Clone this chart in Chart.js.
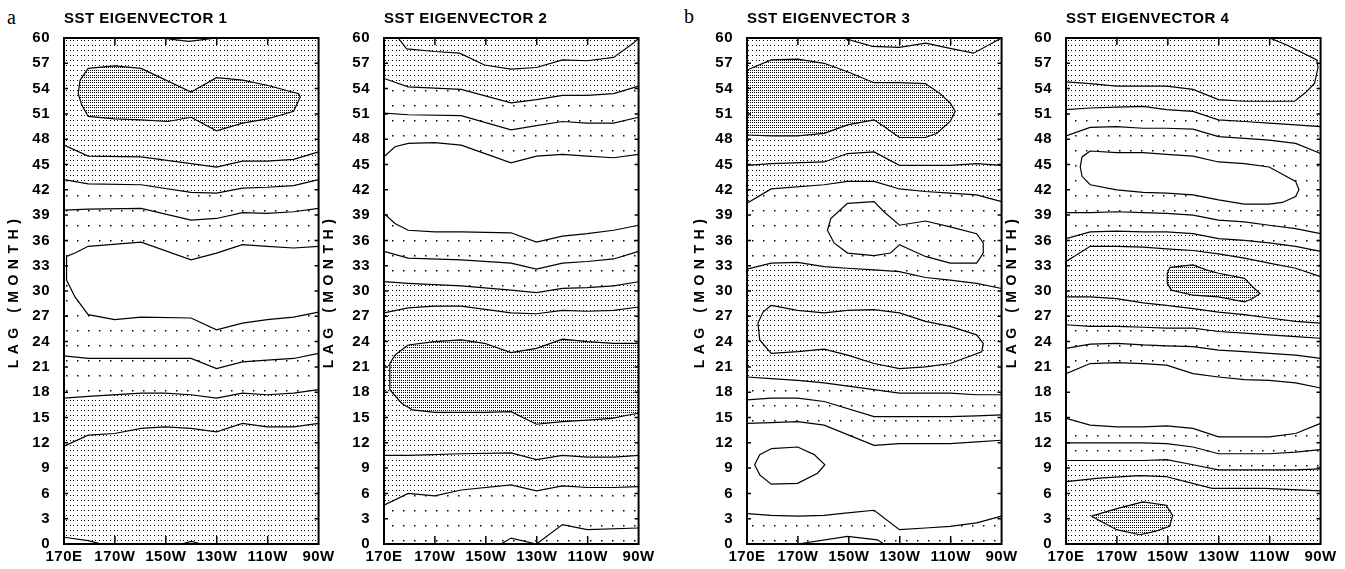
<!DOCTYPE html>
<html>
<head>
<meta charset="utf-8">
<script src="https://cdn.jsdelivr.net/npm/chart.js@4.4.1/dist/chart.umd.min.js"></script>
<style>
    html, body { margin: 0; padding: 0; background: #fff; }
    body { width: 1345px; height: 569px; position: relative; overflow: hidden; }
    canvas { position: absolute; top: 0; }
    .panel-letter { position: absolute; font-family: 'Liberation Serif', 'Times New Roman', serif; font-size: 20px; line-height: 20px; color: #000; }
</style>
</head>
<body>
<div class="panel-letter" style="left:7px; top:7px;">a</div>
<div class="panel-letter" style="left:684px; top:6px;">b</div>
<canvas id="sst1" width="338" height="569" style="left:0px"></canvas>
<canvas id="sst2" width="343" height="569" style="left:315px"></canvas>
<canvas id="sst3" width="335" height="569" style="left:686px"></canvas>
<canvas id="sst4" width="342" height="569" style="left:998px"></canvas>
<script>
// Axes: longitude in degrees east (170E = 170 ... 90W = 270), lag in months
const lonMin = 170, lonMax = 270;
const lagMin = 0, lagMax = 60;
const lonTickValues = [170, 190, 210, 230, 250, 270];
const lonTickLabels = ['170E', '170W', '150W', '130W', '110W', '90W'];
const lagStep = 3;

// ---- Eigenvector 1 contours [lon, lag]
const e1TopDip = [[208, 60], [219, 59.6], [230, 60]];
const e1Blob = [[179.5, 56.4], [189.9, 56.7], [200.3, 56.4], [219.9, 53.6], [229.9, 55.3], [240.1, 55.0], [249.8, 54.4], [262.2, 53.4], [262.8, 53.0], [260.2, 51.3], [249.8, 50.4], [240.1, 49.9], [229.9, 49.0], [221.2, 50.4], [219.9, 50.6], [210.8, 50.1], [200.3, 50.3], [189.9, 50.4], [179.5, 50.7], [176.9, 52.1], [175.6, 53.4], [176.3, 55.0], [179.5, 56.4]];
const e1Line46 = [[170, 47.3], [179.5, 46.0], [200.3, 45.9], [219.9, 45.1], [229.9, 44.7], [240.1, 45.4], [249.8, 45.4], [260.2, 45.6], [270, 46.5]];
const e1Line43 = [[170, 43.2], [179.5, 42.7], [200.3, 42.6], [219.9, 41.7], [229.9, 41.6], [240.1, 42.2], [249.8, 42.3], [260.2, 42.5], [270, 43.2]];
const e1Line39 = [[170, 39.6], [179.5, 39.7], [200.3, 39.8], [219.9, 38.4], [229.9, 38.6], [240.1, 39.3], [249.8, 39.2], [260.2, 39.4], [270, 39.8]];
const e1Hole = [[270, 35.3], [260.2, 35.1], [249.8, 35.3], [240.1, 35.5], [229.9, 34.5], [219.9, 33.7], [200.3, 35.8], [179.5, 35.3], [174.3, 34.5], [171, 34.1], [171, 31.3], [174.3, 29.3], [179.5, 27.2], [189.9, 26.6], [200.3, 26.9], [219.9, 26.8], [229.9, 25.4], [240.1, 26.2], [249.8, 26.6], [260.2, 26.9], [270, 27.5]];
const e1Line22 = [[170, 22.3], [179.5, 22.0], [200.3, 22.0], [219.9, 22.0], [229.9, 20.8], [240.1, 21.6], [249.8, 21.8], [260.2, 22.0], [270, 22.6]];
const e1Line18 = [[170, 17.3], [179.5, 17.5], [200.3, 17.9], [209.5, 17.9], [219.9, 17.7], [229.9, 17.3], [240.1, 17.9], [249.8, 17.7], [260.2, 17.9], [270, 18.3]];
const e1Line13 = [[170, 11.6], [179.5, 12.9], [189.9, 13.1], [200.3, 13.7], [209.5, 13.9], [219.9, 13.7], [229.9, 13.3], [240.1, 14.3], [249.8, 13.9], [260.2, 13.9], [270, 14.3]];
const e1Corner = [[170, 0.8], [179.5, 0.4], [184.7, 0]];
const e1Bump = [[216, 0], [220, 0.3], [224, 0]];

// ---- Eigenvector 2 contours
const e2Line58 = [[175.6, 60], [178.9, 58.7], [189.9, 58.4], [199.7, 58.2], [209.5, 56.8], [219.9, 56.3], [229.9, 56.5], [240.1, 57.4], [249.8, 57.3], [260.2, 57.7], [268, 59.4], [270, 60]];
const e2Line54 = [[170, 55.2], [179.5, 54.2], [200.3, 53.9], [219.9, 52.3], [229.9, 52.7], [240.1, 53.2], [249.8, 53.2], [260.2, 53.4], [270, 54.3]];
const e2Line50 = [[170, 51.1], [179.5, 50.9], [200.3, 50.8], [219.9, 49.1], [229.9, 49.6], [240.1, 50.1], [249.8, 49.9], [260.2, 49.9], [270, 50.6]];
const e2WhiteTop = [[170, 45.9], [174.3, 47.1], [179.5, 47.5], [189.9, 47.6], [200.3, 47.3], [219.9, 45.2], [229.9, 46.0], [240.1, 46.2], [249.8, 46.0], [260.2, 45.8], [270, 46.2]];
const e2WhiteBottom = [[170, 39.2], [174.3, 38.0], [179.5, 37.2], [189.9, 37.0], [200.3, 37.0], [219.9, 36.9], [229.9, 35.8], [240.1, 36.5], [249.8, 36.8], [260.2, 37.2], [270, 37.8]];
const e2Line34 = [[170, 34.7], [179.5, 33.9], [200.3, 33.7], [219.9, 33.3], [229.9, 32.6], [240.1, 33.3], [249.8, 33.5], [260.2, 33.8], [270, 34.7]];
const e2Line31 = [[170, 31.1], [179.5, 30.9], [200.3, 30.6], [219.9, 30.1], [229.9, 29.8], [240.1, 30.3], [249.8, 30.4], [260.2, 30.6], [270, 31.1]];
const e2Line28 = [[170, 27.4], [179.5, 28.0], [189.9, 28.2], [200.3, 28.2], [219.9, 27.4], [229.9, 27.3], [240.1, 27.7], [249.8, 27.6], [260.2, 27.7], [270, 28.1]];
const e2Blob = [[179.5, 23.6], [189.9, 24.0], [200.3, 24.2], [209.5, 23.8], [219.9, 22.7], [229.9, 23.2], [240.1, 24.3], [249.8, 24.0], [260.2, 23.8], [270, 23.8], [270, 15.5], [266, 15.3], [259.6, 14.9], [249.8, 14.7], [240.1, 14.5], [229.9, 14.2], [219.9, 15.7], [209.5, 15.6], [189.9, 15.6], [181.2, 15.9], [176.9, 16.7], [172.3, 18.3], [172.3, 21.4], [174.3, 22.4], [179.5, 23.6]];
const e2Line11 = [[170, 10.5], [179.5, 10.5], [200.3, 10.7], [219.9, 10.8], [229.9, 10.0], [240.1, 10.5], [249.8, 10.3], [260.2, 10.3], [270, 10.5]];
const e2Line6 = [[170, 4.6], [179.5, 6.0], [189.9, 5.7], [200.3, 6.4], [219.9, 7.0], [229.9, 6.3], [240.1, 6.9], [249.8, 6.7], [260.2, 6.7], [270, 6.8]];
const e2Line2 = [[216, 0], [219.9, 0.7], [229.9, 0], [240.1, 2.3], [249.8, 1.7], [270, 1.9]];

// ---- Eigenvector 3 contours
const e3Line59 = [[207.6, 60], [219.3, 59.0], [229.8, 58.9], [240.2, 59.4], [249.3, 58.8], [259, 58.2], [270, 60]];
const e3Blob = [[170, 56.2], [179.5, 57.4], [189.9, 57.5], [200.3, 57.0], [209.5, 56.0], [219.9, 54.7], [229.9, 54.7], [240.1, 54.6], [245.9, 53.4], [249.8, 52.3], [251.8, 51.3], [249.8, 50.1], [244.6, 48.7], [240.1, 48.2], [229.9, 48.2], [223.8, 49.5], [219.9, 50.3], [209.5, 49.7], [200.3, 48.7], [189.9, 48.4], [179.5, 48.4], [170, 48.5]];
const e3Line45 = [[170, 44.9], [179.5, 45.1], [200.3, 45.3], [209.5, 46.3], [219.9, 46.5], [229.9, 44.9], [240.1, 44.9], [249.8, 44.9], [260.2, 45.1], [270, 44.9]];
const e3Line42 = [[170, 40.4], [179.5, 42.1], [200.3, 42.6], [209.5, 43.0], [219.9, 43.0], [229.9, 42.1], [240.1, 41.8], [249.8, 41.6], [260.2, 41.4], [270, 40.6]];
const e3Ring37 = [[209.5, 40.4], [219.9, 40.6], [223.8, 39.4], [229.9, 37.8], [240.1, 38.3], [249.8, 37.6], [260.2, 36.8], [262.8, 35.7], [262.8, 34.5], [260.2, 33.3], [249.8, 33.3], [240.1, 34.1], [234.2, 34.9], [229.9, 35.5], [226.4, 34.5], [219.9, 34.2], [209.5, 34.5], [204.2, 35.7], [201.6, 37.2], [202.9, 38.6], [209.5, 40.4]];
const e3Line32 = [[170, 32.6], [179.5, 33.3], [189.9, 33.4], [200.3, 32.9], [209.5, 32.7], [219.9, 32.5], [229.9, 32.3], [240.1, 31.6], [249.8, 31.3], [260.2, 30.9], [270, 30.3]];
const e3Ring25 = [[179.5, 28.3], [189.9, 27.7], [200.3, 27.4], [209.5, 27.7], [219.9, 27.8], [229.9, 27.4], [240.1, 26.4], [249.8, 25.8], [260.2, 24.8], [262.8, 23.8], [262.2, 22.8], [249.8, 21.4], [240.1, 21.0], [229.9, 20.8], [219.9, 21.4], [209.5, 22.4], [200.3, 23.1], [189.9, 22.8], [179.5, 22.6], [175, 24.2], [174.3, 26.2], [176.3, 27.5], [179.5, 28.3]];
const e3Line19 = [[170, 19.8], [179.5, 19.6], [189.9, 19.4], [200.3, 19.1], [219.9, 18.3], [229.9, 17.9], [240.1, 17.9], [249.8, 17.9], [260.2, 17.7], [270, 17.7]];
const e3Line16 = [[170, 17.1], [179.5, 17.3], [189.9, 17.3], [200.3, 16.9], [219.9, 15.1], [229.9, 15.1], [240.1, 15.1], [249.8, 15.1], [260.2, 15.2], [270, 15.3]];
const e3Line13 = [[170, 14.3], [179.5, 14.4], [189.9, 14.5], [200.3, 14.1], [219.9, 11.7], [229.9, 11.9], [240.1, 11.9], [249.8, 11.9], [260.2, 12.1], [270, 12.3]];
const e3Ring9 = [[179.5, 11.3], [189.9, 11.5], [196.4, 10.6], [200.6, 9.4], [197.7, 8.4], [189.9, 7.2], [179.5, 7.1], [175, 8.2], [173, 9.4], [175, 10.6], [179.5, 11.3]];
const e3Line3 = [[170, 3.6], [179.5, 3.4], [189.9, 3.3], [200.3, 3.4], [209.5, 3.7], [219.9, 4.0], [229.9, 1.7], [240.1, 1.9], [249.8, 2.1], [260.2, 2.5], [270, 3.3]];
const e3Bump = [[189.9, 0], [209.5, 0.9], [221.2, 0.5], [223.8, 0]];

// ---- Eigenvector 4 contours
const e4Line55 = [[170, 54.8], [179.5, 54.6], [189.9, 54.3], [200.3, 54.3], [209.5, 54.3], [219.9, 53.9], [229.9, 52.7], [240.1, 52.5], [249.8, 52.5], [259.8, 52.5], [264, 53.5], [267.6, 54.6], [269, 56.5], [268.5, 57.4], [256.5, 59.2], [250, 60]];
const e4Line52 = [[170, 51.5], [179.5, 51.7], [189.9, 51.8], [200.3, 51.9], [209.5, 51.5], [219.9, 51.3], [229.9, 50.3], [240.1, 50.1], [249.8, 49.9], [260.2, 49.7], [270, 49.5]];
const e4Line49 = [[170, 48.4], [179.5, 49.4], [189.9, 49.5], [200.3, 49.3], [209.5, 49.3], [219.9, 49.2], [229.9, 48.3], [240.1, 48.1], [249.8, 47.9], [260.2, 47.5], [270, 46.3]];
const e4Hole = [[179.5, 46.6], [189.9, 46.4], [200.3, 46.4], [209.5, 46.2], [219.9, 46.0], [229.9, 45.3], [240.1, 45.1], [249.8, 44.7], [260.2, 43.0], [261.5, 42.0], [260.2, 41.2], [255, 40.5], [249.8, 40.3], [240.1, 40.3], [229.9, 40.8], [219.9, 41.4], [209.5, 41.6], [200.3, 41.7], [189.9, 42.0], [179.5, 42.6], [176.3, 43.6], [175.6, 44.7], [176.3, 45.9], [179.5, 46.6]];
const e4Line39 = [[170, 39.3], [179.5, 39.3], [189.9, 39.4], [200.3, 39.3], [209.5, 39.2], [219.9, 39.0], [229.9, 38.4], [240.1, 38.2], [249.8, 37.8], [260.2, 37.4], [270, 36.8]];
const e4Line37 = [[170, 36.2], [179.5, 37.0], [189.9, 37.1], [200.3, 37.0], [209.5, 37.0], [219.9, 36.8], [229.9, 36.2], [240.1, 36.0], [249.8, 35.7], [260.2, 35.3], [270, 34.7]];
const e4Line34 = [[170, 33.5], [179.5, 35.3], [189.9, 35.3], [200.3, 35.2], [209.5, 35.0], [219.9, 34.8], [229.9, 34.4], [240.1, 33.9], [249.8, 33.3], [260.2, 32.7], [270, 31.7]];
const e4Blob30 = [[210.8, 32.8], [219.9, 33.1], [225.1, 32.5], [229.9, 32.1], [240.1, 31.5], [243.3, 30.5], [246.2, 29.7], [243.3, 29.1], [240.1, 28.7], [229.9, 29.3], [219.9, 29.5], [211.4, 30.1], [209.8, 30.9], [209.8, 32.1], [210.8, 32.8]];
const e4Line29 = [[170, 29.3], [179.5, 29.3], [189.9, 29.1], [200.3, 28.6], [209.5, 28.3], [219.9, 27.9], [229.9, 27.5], [240.1, 27.2], [249.8, 26.8], [260.2, 26.4], [270, 26.2]];
const e4Line26 = [[170, 26.0], [179.5, 25.8], [189.9, 25.8], [200.3, 25.7], [209.5, 25.6], [219.9, 25.6], [229.9, 25.2], [240.1, 25.0], [249.8, 24.8], [260.2, 24.6], [270, 24.4]];
const e4Line23 = [[170, 23.2], [179.5, 23.7], [189.9, 23.8], [200.3, 23.6], [209.5, 23.5], [219.9, 23.4], [229.9, 23.0], [240.1, 22.8], [249.8, 22.6], [260.2, 22.4], [270, 22.0]];
const e4WhiteTop = [[170, 20.2], [179.5, 21.4], [189.9, 21.5], [200.3, 21.4], [209.5, 21.2], [219.9, 20.2], [229.9, 19.8], [240.1, 19.5], [249.8, 19.4], [260.2, 19.1], [270, 18.5]];
const e4WhiteBottom = [[170, 14.9], [179.5, 14.1], [189.9, 13.9], [200.3, 13.9], [209.5, 14.0], [219.9, 13.7], [229.9, 12.7], [240.1, 12.7], [249.8, 12.7], [260.2, 13.1], [270, 14.3]];
const e4Line12 = [[170, 12.0], [179.5, 12.0], [189.9, 12.0], [200.3, 12.0], [209.5, 11.9], [219.9, 11.5], [229.9, 10.7], [240.1, 10.7], [249.8, 10.7], [260.2, 10.9], [270, 11.2]];
const e4Line10 = [[170, 9.9], [179.5, 9.9], [189.9, 9.9], [200.3, 9.9], [209.5, 10.0], [219.9, 9.4], [229.9, 8.8], [240.1, 8.8], [249.8, 8.8], [260.2, 8.8], [270, 8.9]];
const e4Line7 = [[170, 7.4], [183, 7.8], [198.8, 8.1], [209.2, 8.0], [217, 7.4], [227.4, 6.6], [248.3, 6.6], [270, 6.3]];
const e4Blob3 = [[180, 3.3], [190, 4.2], [200.2, 5.0], [209.3, 4.6], [211.9, 3.4], [210.7, 2.1], [205, 1.5], [199, 1.1], [189.9, 1.7], [180, 3.3]];

const fontFamily = "'Liberation Sans', Arial, sans-serif";

// Stipple patterns: dense dots, sparse dots (every third grid dot), fine grey shading
function dotPattern(w, h, dots, size) {
    const tile = document.createElement('canvas');
    tile.width = w;
    tile.height = h;
    const g = tile.getContext('2d');
    g.fillStyle = '#fff';
    g.fillRect(0, 0, w, h);
    g.fillStyle = '#000';
    dots.forEach(([x, y]) => g.fillRect(x, y, size, size));
    return g.createPattern(tile, 'repeat');
}

const dense = dotPattern(11, 5, [[0, 0], [4, 0], [7, 0]], 1);
const sparse = dotPattern(11, 15, [[0, 0]], 1.5);
const shaded = dotPattern(2, 5, [[0, 0], [0, 2]], 1);
const blank = '#fff';

const wholeArea = [[lonMin, lagMin], [lonMax, lagMin], [lonMax, lagMax], [lonMin, lagMax]];

function band(upper, lower) {
    return upper.concat(lower.slice().reverse());
}

function belowLine(line) {
    return line.concat([[lonMax, lagMin], [lonMin, lagMin]]);
}

function area(shape, pattern, order) {
    return { data: shape, fill: 'shape', backgroundColor: pattern, borderWidth: 0, pointRadius: 0, order };
}

function contour(line) {
    return { data: line, fill: false, borderColor: '#000', borderWidth: 1.2, pointRadius: 0, order: 0 };
}

// Inward ticks on all four sides plus the heavy frame
const frameTicks = {
    id: 'frameTicks',
    afterDatasetsDraw(chart) {
        const { ctx, chartArea: a, scales: { x, y } } = chart;
        ctx.save();
        ctx.strokeStyle = '#000';
        ctx.lineWidth = 1.5;
        ctx.beginPath();
        x.ticks.forEach(t => {
            if (t.value <= x.min || t.value >= x.max) return;
            const px = x.getPixelForValue(t.value);
            ctx.moveTo(px, a.bottom);
            ctx.lineTo(px, a.bottom - 8);
            ctx.moveTo(px, a.top);
            ctx.lineTo(px, a.top + 7);
        });
        y.ticks.forEach(t => {
            if (t.value <= y.min || t.value >= y.max) return;
            const py = y.getPixelForValue(t.value);
            ctx.moveTo(a.left, py);
            ctx.lineTo(a.left + 4, py);
            ctx.moveTo(a.right, py);
            ctx.lineTo(a.right - 4, py);
        });
        ctx.stroke();
        ctx.lineWidth = 2;
        ctx.strokeRect(a.left, a.top, a.right - a.left, a.bottom - a.top);
        ctx.restore();
    }
};

// Slightly spaced labels, wide spacing on the axis title
const spacedTitle = {
    id: 'spacedTitle',
    beforeDraw(chart) {
        chart.ctx.letterSpacing = '0.5px';
        const yScale = chart.scales.y;
        if (yScale._spaced) return;
        const drawTitle = yScale.drawTitle.bind(yScale);
        yScale.drawTitle = function () {
            chart.ctx.save();
            chart.ctx.letterSpacing = '5.5px';
            drawTitle();
            chart.ctx.restore();
        };
        yScale._spaced = true;
    }
};

function drawPanel(canvasId, title, axisWidth, fills, lines) {
    const datasets = [area(wholeArea, dense, 9)]
        .concat(fills)
        .concat(lines.map(contour));

    return new Chart(document.getElementById(canvasId), {
        type: 'line',
        data: { datasets },
        options: {
            responsive: false,
            animation: false,
            events: [],
            layout: { padding: { left: 0, right: 18, top: 0, bottom: 0 } },
            elements: { line: { tension: 0 } },
            plugins: {
                legend: { display: false },
                tooltip: { enabled: false },
                title: {
                    display: true,
                    text: title,
                    align: 'start',
                    fullSize: false,
                    color: '#000',
                    font: { family: fontFamily, size: 15, weight: 'bold' },
                    padding: { top: 10, bottom: 10 }
                }
            },
            scales: {
                x: {
                    type: 'linear',
                    min: lonMin,
                    max: lonMax,
                    afterBuildTicks: scale => { scale.ticks = lonTickValues.map(value => ({ value })); },
                    afterFit: scale => { scale.height = 25; },
                    grid: { display: false, drawTicks: false },
                    border: { display: false },
                    ticks: {
                        autoSkip: false,
                        maxRotation: 0,
                        padding: 4,
                        color: '#000',
                        font: { family: fontFamily, size: 15, weight: 'bold' },
                        callback: value => lonTickLabels[lonTickValues.indexOf(value)]
                    }
                },
                y: {
                    type: 'linear',
                    min: lagMin,
                    max: lagMax,
                    afterFit: scale => { scale.width = axisWidth; },
                    grid: { display: false, drawTicks: false },
                    border: { display: false },
                    title: {
                        display: true,
                        text: 'LAG (MONTH)',
                        color: '#000',
                        font: { family: fontFamily, size: 14, weight: 'bold' },
                        padding: { top: 6, bottom: 0 }
                    },
                    ticks: {
                        stepSize: lagStep,
                        autoSkip: false,
                        padding: 14,
                        color: '#000',
                        font: { family: fontFamily, size: 15, weight: 'bold' }
                    }
                }
            }
        },
        plugins: [frameTicks, spacedTitle]
    });
}

drawPanel('sst1', 'SST EIGENVECTOR 1', 64, [
    area(band(e1Line43, e1Line18), sparse, 8),
    area(e1Hole, blank, 7),
    area(e1TopDip, blank, 7),
    area(e1Corner.concat([[lonMin, lagMin]]), blank, 7),
    area(e1Blob, shaded, 6)
], [e1TopDip, e1Blob, e1Line46, e1Line43, e1Line39, e1Hole, e1Line22, e1Line18, e1Line13, e1Corner, e1Bump]);

drawPanel('sst2', 'SST EIGENVECTOR 2', 69, [
    area(band(e2Line54, e2WhiteTop), sparse, 8),
    area(band(e2WhiteBottom, e2Line31), sparse, 8),
    area(belowLine(e2Line6), sparse, 8),
    area(band(e2WhiteTop, e2WhiteBottom), blank, 7),
    area(e2Blob, shaded, 6)
], [e2Line58, e2Line54, e2Line50, e2WhiteTop, e2WhiteBottom, e2Line34, e2Line31, e2Line28, e2Blob, e2Line11, e2Line6, e2Line2]);

drawPanel('sst3', 'SST EIGENVECTOR 3', 61, [
    area(band(e3Line42, e3Line32), sparse, 8),
    area(band(e3Line19, e3Line13), sparse, 8),
    area(belowLine(e3Line3), sparse, 8),
    area(band(e3Line13, e3Line3), blank, 7),
    area(e3Bump, blank, 7),
    area(e3Blob, shaded, 6)
], [e3Line59, e3Blob, e3Line45, e3Line42, e3Ring37, e3Line32, e3Ring25, e3Line19, e3Line16, e3Line13, e3Ring9, e3Line3, e3Bump]);

drawPanel('sst4', 'SST EIGENVECTOR 4', 68, [
    area(band(e4Line52, e4Line37), sparse, 8),
    area(band(e4Line26, e4WhiteTop), sparse, 8),
    area(band(e4WhiteBottom, e4Line10), sparse, 8),
    area(e4Hole, blank, 7),
    area(band(e4WhiteTop, e4WhiteBottom), blank, 7),
    area(e4Blob30, shaded, 6),
    area(e4Blob3, shaded, 6)
], [e4Line55, e4Line52, e4Line49, e4Hole, e4Line39, e4Line37, e4Line34, e4Blob30, e4Line29, e4Line26, e4Line23, e4WhiteTop, e4WhiteBottom, e4Line12, e4Line10, e4Line7, e4Blob3]);
</script>
</body>
</html>
